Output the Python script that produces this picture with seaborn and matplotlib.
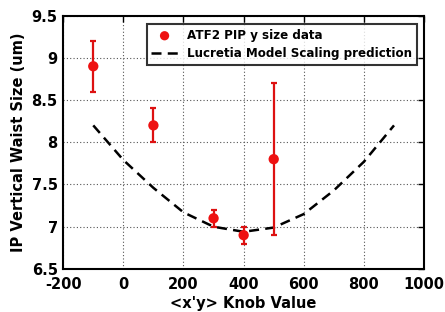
import numpy as np
import pandas as pd
import seaborn as sns
import matplotlib
matplotlib.use("Agg")
import matplotlib.pyplot as plt

# measured data
knob = [-100, 100, 300, 400, 500]
size = [8.9, 8.2, 7.1, 6.9, 7.8]
err_lo = [8.6, 8.0, 7.0, 6.8, 6.9]
err_hi = [9.2, 8.4, 7.2, 7.0, 8.7]

# model prediction
model_x = [-100, 0, 100, 200, 300, 400, 500, 600, 700, 800, 900]
model_y = [8.2, 7.79, 7.46, 7.17, 7.0, 6.94, 6.99, 7.15, 7.43, 7.77, 8.2]

x_ticks = [-200, 0, 200, 400, 600, 800, 1000]
x_tick_labels = ["-200", "0", "200", "400", "600", "800", "1000"]
y_ticks = [6.5, 7, 7.5, 8, 8.5, 9, 9.5]
y_tick_labels = ["6.5", "7", "7.5", "8", "8.5", "9", "9.5"]

sns.set_style("white")
plt.rcParams["font.family"] = ["DejaVu Sans"]
plt.rcParams["font.weight"] = "bold"
plt.rcParams["text.color"] = "black"
plt.rcParams["axes.labelcolor"] = "black"
plt.rcParams["xtick.color"] = "black"
plt.rcParams["ytick.color"] = "black"

df = pd.DataFrame({"knob": knob, "size": size})
df_model = pd.DataFrame({"x": model_x, "y": model_y})

fig, ax = plt.subplots(figsize=(4.45, 3.12), dpi=100)
fig.subplots_adjust(left=0.142, right=0.953, top=0.95, bottom=0.138)

ax.errorbar(knob, size,
            yerr=[np.array(size) - np.array(err_lo), np.array(err_hi) - np.array(size)],
            fmt="none", ecolor="#dd1111", elinewidth=1.6, capsize=2.5, capthick=1.6, zorder=3)
sns.scatterplot(data=df, x="knob", y="size", ax=ax, color="#ee1111", s=55,
                edgecolor="none", label="ATF2 PIP y size data", zorder=4)
sns.lineplot(data=df_model, x="x", y="y", ax=ax, color="black", linestyle=(0, (4, 2.5)),
             linewidth=1.8, label="Lucretia Model Scaling prediction", zorder=2)

ax.set_xlim(-200, 1000)
ax.set_ylim(6.5, 9.5)
ax.set_xticks(x_ticks)
ax.set_xticklabels(x_tick_labels)
ax.set_yticks(y_ticks)
ax.set_yticklabels(y_tick_labels)
ax.grid(True, linestyle=(0, (1, 2)), color="#555555", linewidth=0.8)
ax.tick_params(direction="in", length=4, labelsize=10.5, top=True, right=True, width=1)
ax.tick_params(axis="x", pad=6)
ax.tick_params(axis="y", pad=4)
for lab in ax.get_xticklabels() + ax.get_yticklabels():
    lab.set_fontweight("bold")
for sp in ax.spines.values():
    sp.set_linewidth(1.5)
    sp.set_color("black")

ax.set_xlabel("<x'y> Knob Value", fontsize=10.5, fontweight="bold", labelpad=3)
ax.set_ylabel("IP Vertical Waist Size (um)", fontsize=10.5, fontweight="bold", labelpad=4)

leg = ax.legend(loc="upper right", bbox_to_anchor=(0.997, 0.99), fontsize=8.6,
                frameon=True, fancybox=False, handlelength=2.2, borderpad=0.4,
                labelspacing=0.45, markerscale=0.9)
leg.get_frame().set_edgecolor("black")
leg.get_frame().set_linewidth(1.5)
for t in leg.get_texts():
    t.set_fontweight("bold")
    t.set_color("black")

plt.savefig("out.png", dpi=100)
